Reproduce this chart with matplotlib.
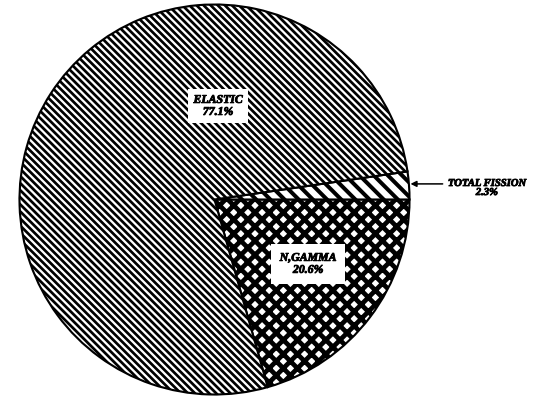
import matplotlib
matplotlib.use("Agg")
import matplotlib.pyplot as plt
import matplotlib.patheffects as pe

# reaction shares, percent
labels = ["N,GAMMA", "TOTAL FISSION", "ELASTIC"]
shares = [20.6, 2.3, 77.1]
hatches = ["xx", "\\\\", "\\\\\\\\"]
hatch_widths = [4.0, 3.4, 2.3]

DPI = 85
W, H = 549, 397
fig = plt.figure(figsize=(W / DPI, H / DPI), dpi=DPI)
fig.patch.set_facecolor("white")

# pie centre and radius in pixels of the final picture
cx, cy, r = 214.5, 199.5, 195.0
pad = 1.05
ax = fig.add_axes([(cx - r * pad) / W, (H - cy - r * pad) / H,
                   2 * r * pad / W, 2 * r * pad / H])

wedges, _ = ax.pie(shares, startangle=-360 * shares[0] / 100,
                   colors=["white"] * 3,
                   wedgeprops=dict(edgecolor="black", linewidth=1.8))
for w, h, lw in zip(wedges, hatches, hatch_widths):
    w.set_hatch(h)
    if hasattr(w, "set_hatch_linewidth"):
        w.set_hatch_linewidth(lw)

ax.set_xlim(-pad, pad)
ax.set_ylim(-pad, pad)
ax.set_aspect("equal")
ax.axis("off")

heavy = [pe.withStroke(linewidth=0.7, foreground="black")]
font = dict(family="Liberation Serif", weight="bold", style="italic",
            ha="center", va="center", linespacing=1.0, path_effects=heavy)

ax.text(0.018, 0.48, f"{labels[2]}\n{shares[2]}%", fontsize=10,
        bbox=dict(facecolor="white", edgecolor="none",
                  boxstyle="square,pad=0.45"), **font)
ax.text(0.48, -0.33, f"{labels[0]}\n{shares[0]}%", fontsize=10,
        bbox=dict(facecolor="white", edgecolor="none",
                  boxstyle="square,pad=0.7"), **font)

ax.text(1.397, 0.059, f"{labels[1]}\n{shares[1]}%", fontsize=9,
        clip_on=False, **font)
ax.annotate("", xy=(1.005, 0.08), xytext=(1.17, 0.08),
            arrowprops=dict(arrowstyle="-|>", color="black", lw=1.3,
                            shrinkA=0, shrinkB=0, mutation_scale=10),
            annotation_clip=False)

fig.savefig("out.png", dpi=DPI, facecolor="white")
